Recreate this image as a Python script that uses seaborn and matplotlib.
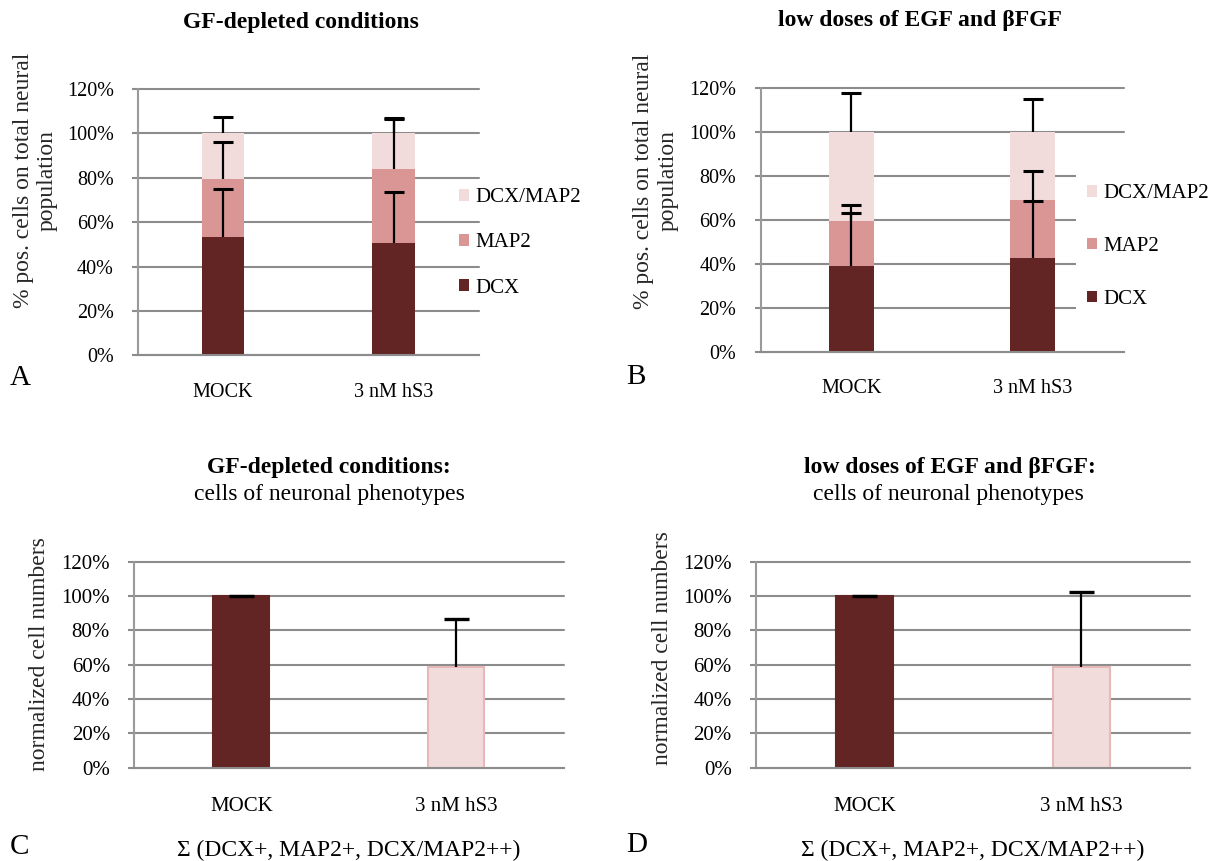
import matplotlib
matplotlib.use("Agg")
import matplotlib.pyplot as plt
from matplotlib.ticker import PercentFormatter
import seaborn as sns

# ---- data -------------------------------------------------------------
categories = ["MOCK", "3 nM hS3"]
segment_names = ["DCX", "MAP2", "DCX/MAP2"]

# panel A: GF-depleted conditions (stacked segments, %)
a_dcx = [53.4, 50.7]
a_map2 = [26.1, 33.4]
a_dcx_map2 = [20.5, 15.9]
a_err_dcx = [21.4, 22.9]
a_err_map2 = [16.5, 23.0]
a_err_dcx_map2 = [7.5, 6.6]

# panel B: low doses of EGF and bFGF (stacked segments, %)
b_dcx = [39.0, 42.4]
b_map2 = [20.4, 26.5]
b_dcx_map2 = [40.6, 31.1]
b_err_dcx = [24.2, 26.2]
b_err_map2 = [7.3, 13.2]
b_err_dcx_map2 = [17.5, 14.8]

# panels C and D: normalized neuronal cell numbers (%)
c_values = [100.0, 58.5]
c_err = [0.0, 28.1]
d_values = [100.0, 58.5]
d_err = [0.0, 43.7]

y_ticks = [0, 20, 40, 60, 80, 100, 120]

# ---- style ------------------------------------------------------------
COL_DCX = "#632523"
COL_MAP2 = "#d99694"
COL_BOTH = "#f2dcdb"
COL_EDGE_LIGHT = "#e6b9b8"
GRID = "#8c8c8c"
SPINE = "#9a9a9a"

sns.set_theme(style="white")
plt.rcParams["font.family"] = ["Liberation Serif", "DejaVu Serif"]
plt.rcParams["text.color"] = "black"

W, H = 1214, 861
fig = plt.figure(figsize=(W / 100, H / 100), dpi=100)


def px_axes(left, right, top, bottom):
    return fig.add_axes([left / W, 1 - bottom / H, (right - left) / W, (bottom - top) / H])


def style_axes(ax, tick_size, xpad):
    ax.set_xlim(-0.5, len(categories) - 0.5)
    ax.set_ylim(0, 120)
    ax.set_yticks(y_ticks)
    ax.yaxis.set_major_formatter(PercentFormatter(decimals=0))
    ax.set_axisbelow(True)
    ax.yaxis.grid(True, color=GRID, linewidth=1.5)
    ax.xaxis.grid(False)
    for ln in ax.get_ygridlines():
        ln.set_clip_on(False)
    for side in ("top", "right"):
        ax.spines[side].set_visible(False)
    ax.spines["left"].set_color(SPINE)
    ax.spines["bottom"].set_color(GRID)
    for side in ("left", "bottom"):
        ax.spines[side].set_linewidth(1.5)
    ax.tick_params(axis="y", which="major", left=True, length=4.3, width=1.5,
                   color=GRID, direction="out", pad=13, labelsize=tick_size,
                   labelcolor="black")
    ax.tick_params(axis="x", length=0, pad=xpad, labelsize=tick_size,
                   labelcolor="black")
    ax.set_xlabel("")


def upper_errorbar(ax, tops, err, capsize, capthick):
    """Error bars drawn upward only, with a cap at the upper end."""
    pos = list(range(len(categories)))
    _, caps, _ = ax.errorbar(pos, tops, yerr=[[0] * len(err), err], fmt="none",
                             ecolor="black", elinewidth=1.6, capsize=capsize,
                             capthick=capthick, zorder=4)
    # caps[0] is the lower cap, which sits on the bar top; keep only the upper one
    caps[0].set_visible(False)


def stacked_panel(ax, dcx, map2, both, errs, width):
    mid = [d + m for d, m in zip(dcx, map2)]
    total = [t + b for t, b in zip(mid, both)]
    # draw from the top segment down so each layer covers the one below
    sns.barplot(x=categories, y=total, color=COL_BOTH, saturation=1,
                width=width, ax=ax, label="DCX/MAP2", linewidth=0)
    sns.barplot(x=categories, y=mid, color=COL_MAP2, saturation=1,
                width=width, ax=ax, label="MAP2", linewidth=0)
    sns.barplot(x=categories, y=dcx, color=COL_DCX, saturation=1,
                width=width, ax=ax, label="DCX", linewidth=0)
    for tops, err in zip((dcx, mid, total), errs):
        upper_errorbar(ax, tops, err, 7, 2.2)


def single_panel(ax, values, err, width):
    sns.barplot(x=categories, y=values, hue=categories,
                palette=[COL_DCX, COL_BOTH], saturation=1, width=width,
                ax=ax, legend=False)
    edges = [COL_DCX, COL_EDGE_LIGHT]
    for patch, ec in zip(ax.patches, edges):
        patch.set_edgecolor(ec)
        patch.set_linewidth(1.5)
    upper_errorbar(ax, values, err, 9, 2.4)


# ---- panel A ------------------------------------------------------------
axA = px_axes(137.8, 479, 89, 355.3)
stacked_panel(axA, a_dcx, a_map2, a_dcx_map2,
              [a_err_dcx, a_err_map2, a_err_dcx_map2], 0.25)
style_axes(axA, 14.5, 20)
axA.set_ylabel("% pos. cells on total neural\npopulation", fontsize=17,
               va="center", ha="center", multialignment="center")
axA.yaxis.set_label_coords(-0.300, 0.658)
legA = axA.legend(loc="center left", bbox_to_anchor=(459 / W, 1 - 243 / H),
                  bbox_transform=fig.transFigure, frameon=False, fontsize=15,
                  handlelength=0.48, handleheight=0.48, handletextpad=0.3,
                  labelspacing=1.25, borderpad=0, borderaxespad=0)

# ---- panel B ------------------------------------------------------------
axB = px_axes(760.5, 1123.5, 87.7, 351.7)
stacked_panel(axB, b_dcx, b_map2, b_dcx_map2,
              [b_err_dcx, b_err_map2, b_err_dcx_map2], 0.25)
style_axes(axB, 14.5, 20)
axB.set_ylabel("% pos. cells on total neural\npopulation", fontsize=17,
               va="center", ha="center", multialignment="center")
axB.yaxis.set_label_coords(-0.289, 0.647)
legB = axB.legend(loc="center left", bbox_to_anchor=(1076 / W, 1 - 246.5 / H),
                  bbox_transform=fig.transFigure, frameon=True, fontsize=15,
                  facecolor="white", edgecolor="none", framealpha=1,
                  fancybox=False, handlelength=0.48, handleheight=0.48,
                  handletextpad=0.3, labelspacing=1.62, borderpad=0.53,
                  borderaxespad=0)

# ---- panel C ------------------------------------------------------------
axC = px_axes(134, 563.7, 561.7, 767.7)
single_panel(axC, c_values, c_err, 0.26)
style_axes(axC, 15, 21)
axC.set_ylabel("normalized cell numbers", fontsize=17, va="center", ha="center")
axC.yaxis.set_label_coords(-0.219, 0.552)

# ---- panel D ------------------------------------------------------------
axD = px_axes(755.8, 1190, 561.7, 767.7)
single_panel(axD, d_values, d_err, 0.26)
style_axes(axD, 15, 21)
axD.set_ylabel("normalized cell numbers", fontsize=17, va="center", ha="center")
axD.yaxis.set_label_coords(-0.215, 0.58)


# ---- titles, footers and panel letters ----------------------------------
def ftext(x, y, s, **kw):
    fig.text(x / W, 1 - y / H, s, **kw)


ftext(301.4, 28, "GF-depleted conditions", ha="center", va="baseline",
      fontsize=17, fontweight="bold")
ftext(920, 26, "low doses of EGF and βFGF", ha="center", va="baseline",
      fontsize=17, fontweight="bold")
ftext(329, 472.7, "GF-depleted conditions:", ha="center", va="baseline",
      fontsize=17, fontweight="bold")
ftext(329, 500, "cells of neuronal phenotypes", ha="center", va="baseline",
      fontsize=17)
ftext(949.5, 472.7, "low doses of EGF and βFGF:", ha="center", va="baseline",
      fontsize=17, fontweight="bold")
ftext(948, 500, "cells of neuronal phenotypes", ha="center", va="baseline",
      fontsize=17)
ftext(349, 850, "Σ (DCX+, MAP2+, DCX/MAP2++)", ha="center", va="center",
      fontsize=17)
ftext(973, 850, "Σ (DCX+, MAP2+, DCX/MAP2++)", ha="center", va="center",
      fontsize=17)

ftext(9.6, 378, "A", ha="left", va="center", fontsize=21)
ftext(626.6, 377, "B", ha="left", va="center", fontsize=21)
ftext(9.6, 847, "C", ha="left", va="center", fontsize=21)
ftext(626.6, 845, "D", ha="left", va="center", fontsize=21)

fig.savefig("out.png", dpi=100)
